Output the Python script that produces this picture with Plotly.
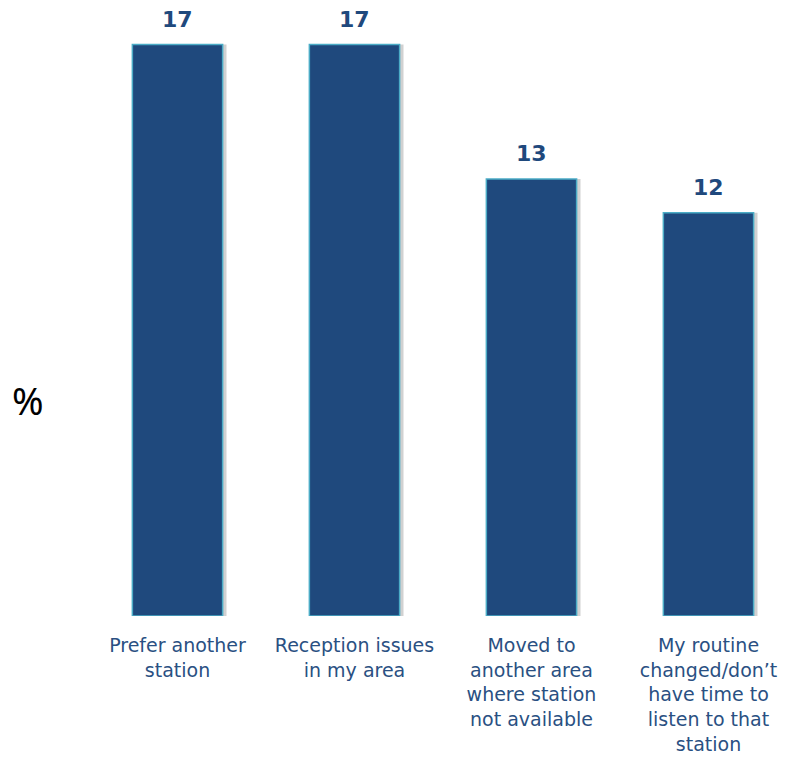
import plotly.graph_objects as go

categories = [
    "Prefer another<br>station",
    "Reception issues<br>in my area",
    "Moved to<br>another area<br>where station<br>not available",
    "My routine<br>changed/don’t<br>have time to<br>listen to that<br>station",
]
values = [17, 17, 13, 12]
value_labels = ["17", "17", "13", "12"]

navy = "#1F497D"
fig = go.Figure()
# soft shadow
fig.add_trace(go.Bar(
    x=categories, y=values, width=0.51, offset=-0.255 + 0.022,
    marker=dict(color="rgba(0,0,0,0.18)", line=dict(width=0)),
    hoverinfo="skip", showlegend=False,
))
fig.add_trace(go.Bar(
    x=categories, y=values, width=0.51, offset=-0.255,
    marker=dict(color=navy, line=dict(color="#4BACC6", width=1.5)),
    showlegend=False,
))
for c, v, t in zip(categories, values, value_labels):
    fig.add_annotation(x=c, y=v, text="<b>%s</b>" % t, showarrow=False,
                       yanchor="bottom", yshift=12, borderpad=0,
                       font=dict(family="DejaVu Sans", size=22, color=navy))
fig.add_annotation(xref="paper", yref="paper", x=-0.087, y=0.357, text="%",
                   showarrow=False, xanchor="center", yanchor="middle",
                   font=dict(family="Noto Sans", size=38, color="black"))
fig.update_layout(
    width=778, height=752, barmode="overlay",
    margin=dict(l=81, r=0, t=3, b=144),
    plot_bgcolor="white", paper_bgcolor="white",
    xaxis=dict(range=[-0.5, 3.438], showgrid=False, zeroline=False, showline=False,
               ticks="", ticklabelstandoff=16,
               tickfont=dict(family="DejaVu Sans", size=19, color="#2A5082")),
    yaxis=dict(range=[0, 18], visible=False),
)
fig.write_html("out.html")
